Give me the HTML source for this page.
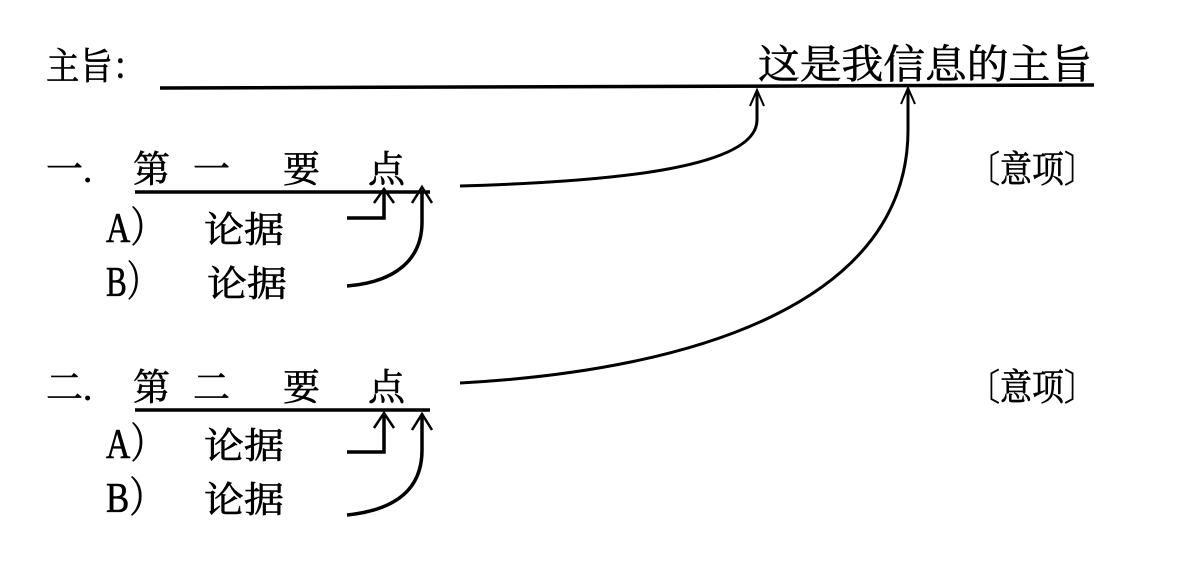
<!DOCTYPE html>
<html><head><meta charset="utf-8"><style>
html,body{margin:0;padding:0;background:#fff;}
svg{display:block;}
text{font-family:"Liberation Serif","Noto Serif CJK SC",serif;fill:#000;stroke:#000;stroke-width:0.6;}
</style></head><body>
<svg width="1193" height="583" viewBox="0 0 1193 583" xmlns="http://www.w3.org/2000/svg">
<g font-size="37">
<text x="46" y="79" textLength="100" lengthAdjust="spacingAndGlyphs">主旨：</text>
<text x="758" y="78" font-size="40" textLength="334" lengthAdjust="spacingAndGlyphs">这是我信息的主旨</text>
<text x="46" y="182">一.</text>
<text x="133" y="182">第</text><text x="193" y="182">一</text><text x="283" y="182">要</text><text x="368" y="182">点</text>
<text x="968" y="182" textLength="128" lengthAdjust="spacingAndGlyphs">〔意项〕</text>
<text x="46" y="400">二.</text>
<text x="133" y="400">第</text><text x="193" y="400">二</text><text x="283" y="400">要</text><text x="368" y="400">点</text>
<text x="968" y="400" textLength="128" lengthAdjust="spacingAndGlyphs">〔意项〕</text>
</g>
<g font-size="36">
<text x="106" y="242" font-size="42" textLength="58" lengthAdjust="spacingAndGlyphs">A）</text><text x="204" y="242" textLength="80" lengthAdjust="spacingAndGlyphs">论据</text>
<text x="106" y="296" font-size="42" textLength="52" lengthAdjust="spacingAndGlyphs">B）</text><text x="207" y="296" textLength="80" lengthAdjust="spacingAndGlyphs">论据</text>
<text x="106" y="458" font-size="42" textLength="58" lengthAdjust="spacingAndGlyphs">A）</text><text x="204" y="458" textLength="80" lengthAdjust="spacingAndGlyphs">论据</text>
<text x="106" y="512" font-size="42" textLength="58" lengthAdjust="spacingAndGlyphs">B）</text><text x="204" y="512" textLength="80" lengthAdjust="spacingAndGlyphs">论据</text>
</g>
<g stroke="#000" fill="none" stroke-width="3.5">
<line x1="160" y1="88" x2="1094" y2="85"/>
<line x1="135" y1="192" x2="430" y2="192"/>
<line x1="135" y1="410" x2="430" y2="410"/>
<path d="M347 218 H384 V190"/>
<path d="M374 203 L384 189 L394 203" stroke-width="2.5"/>
<path d="M347 286 C395 282 422 260 422 222 V190"/>
<path d="M412 203 L422 187 L432 203" stroke-width="2.5"/>
<path d="M347 452 H384 V414"/>
<path d="M374 428 L384 413 L394 428" stroke-width="2.5"/>
<path d="M347 515 C395 510 422 490 422 450 V415"/>
<path d="M412 430 L422 414 L432 430" stroke-width="2.5"/>
<path d="M460 186 C600 182 757 170 757 120 V92" stroke-width="3"/>
<path d="M750 106 L757 90 L764 106" stroke-width="2"/>
<path d="M460 383 C700 370 908 300 908 130 V90" stroke-width="3"/>
<path d="M901 104 L908 88 L915 104" stroke-width="2"/>
</g>
</svg>
</body></html>
